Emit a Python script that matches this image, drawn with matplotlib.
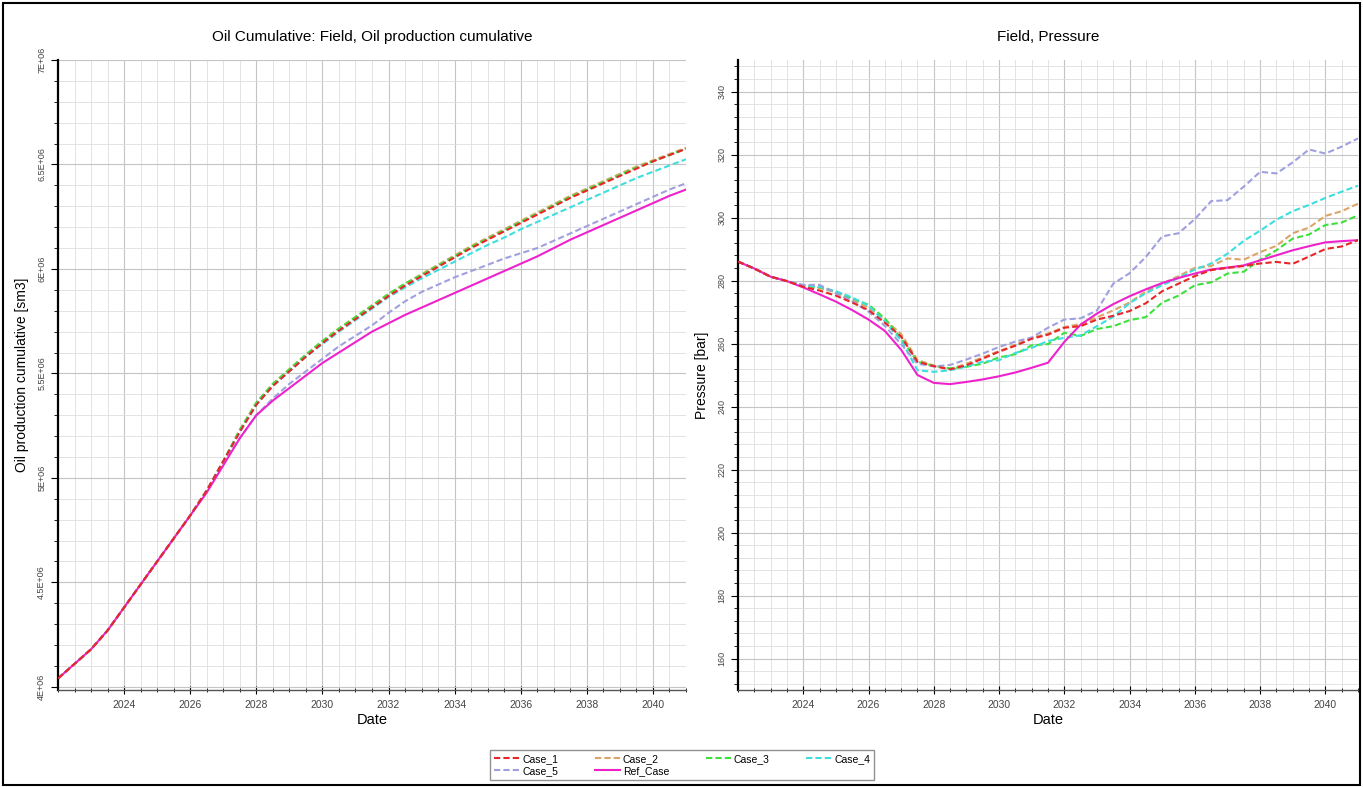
import matplotlib
matplotlib.use('Agg')
import matplotlib.pyplot as plt
from matplotlib.ticker import MultipleLocator, FuncFormatter
from matplotlib.patches import Rectangle
import numpy as np

plt.rcParams['font.family'] = ['Liberation Sans', 'DejaVu Sans']

# dates as decimal years, half-year steps
dates = [2022.0, 2022.5, 2023.0, 2023.5, 2024.0, 2024.5, 2025.0, 2025.5, 2026.0, 2026.5,
         2027.0, 2027.5, 2028.0, 2028.5, 2029.0, 2029.5, 2030.0, 2030.5, 2031.0, 2031.5,
         2032.0, 2032.5, 2033.0, 2033.5, 2034.0, 2034.5, 2035.0, 2035.5, 2036.0, 2036.5,
         2037.0, 2037.5, 2038.0, 2038.5, 2039.0, 2039.5, 2040.0, 2040.5, 2041.0]

case_names = ['Case_1', 'Case_2', 'Case_3', 'Case_4', 'Case_5', 'Ref_Case']
case_colors = ['#e8262a', '#dca468', '#3ee03e', '#3edede', '#a0a0e0', '#ee22cc']
case_styles = ['--', '--', '--', '--', '--', '-']

# oil production cumulative, million sm3
oil_case_1 = [4.04, 4.11, 4.18, 4.27, 4.38, 4.49, 4.60, 4.71, 4.82, 4.94,
              5.08, 5.22, 5.35, 5.44, 5.51, 5.58, 5.645, 5.705, 5.76, 5.815,
              5.87, 5.92, 5.965, 6.01, 6.055, 6.10, 6.14, 6.18, 6.22, 6.26,
              6.30, 6.34, 6.375, 6.41, 6.445, 6.48, 6.515, 6.545, 6.575]
oil_case_2 = [4.04, 4.11, 4.18, 4.27, 4.38, 4.49, 4.60, 4.71, 4.82, 4.94,
              5.08, 5.23, 5.36, 5.45, 5.52, 5.59, 5.655, 5.715, 5.77, 5.825,
              5.88, 5.93, 5.975, 6.02, 6.065, 6.11, 6.15, 6.19, 6.23, 6.27,
              6.31, 6.35, 6.385, 6.42, 6.455, 6.49, 6.52, 6.55, 6.58]
oil_case_3 = [4.04, 4.11, 4.18, 4.27, 4.38, 4.49, 4.60, 4.71, 4.82, 4.94,
              5.08, 5.23, 5.36, 5.45, 5.52, 5.59, 5.655, 5.715, 5.77, 5.825,
              5.88, 5.93, 5.972, 6.017, 6.06, 6.105, 6.145, 6.185, 6.225, 6.265,
              6.305, 6.345, 6.38, 6.415, 6.45, 6.485, 6.515, 6.545, 6.575]
oil_case_4 = [4.04, 4.11, 4.18, 4.27, 4.38, 4.49, 4.60, 4.71, 4.82, 4.94,
              5.08, 5.22, 5.35, 5.44, 5.51, 5.58, 5.64, 5.70, 5.755, 5.81,
              5.865, 5.912, 5.955, 5.995, 6.035, 6.075, 6.115, 6.15, 6.19, 6.225,
              6.26, 6.295, 6.33, 6.365, 6.40, 6.435, 6.465, 6.495, 6.525]
oil_case_5 = [4.04, 4.11, 4.18, 4.27, 4.38, 4.49, 4.60, 4.71, 4.82, 4.94,
              5.07, 5.19, 5.30, 5.38, 5.45, 5.51, 5.57, 5.63, 5.68, 5.73,
              5.79, 5.845, 5.89, 5.925, 5.96, 5.99, 6.02, 6.05, 6.075, 6.10,
              6.135, 6.17, 6.205, 6.24, 6.275, 6.31, 6.345, 6.38, 6.41]
oil_ref = [4.04, 4.11, 4.18, 4.27, 4.38, 4.49, 4.60, 4.71, 4.82, 4.93,
           5.06, 5.19, 5.30, 5.37, 5.43, 5.49, 5.55, 5.60, 5.65, 5.70,
           5.74, 5.78, 5.815, 5.85, 5.885, 5.92, 5.955, 5.99, 6.025, 6.06,
           6.10, 6.14, 6.175, 6.21, 6.245, 6.28, 6.315, 6.35, 6.38]

# field pressure, bar
pres_case_1 = [286.0, 283.8, 281.2, 279.8, 278.0, 276.8, 275.2, 273.0, 270.6, 266.6,
               262.2, 254.2, 252.8, 251.8, 253.1, 255.2, 257.4, 259.3, 261.5, 262.8,
               265.0, 265.5, 267.6, 268.8, 270.3, 272.8, 276.6, 279.0, 281.4, 283.3,
               284.0, 284.6, 285.4, 285.9, 285.3, 287.6, 290.0, 290.8, 292.8]
pres_case_2 = [286.0, 283.8, 281.2, 279.8, 278.3, 277.6, 276.3, 273.8, 271.4, 267.5,
               263.0, 254.8, 253.0, 251.9, 253.6, 255.6, 257.6, 259.6, 261.8, 263.2,
               265.2, 266.2, 268.3, 270.5, 273.0, 276.5, 279.0, 281.4, 284.0, 284.6,
               287.0, 286.6, 289.0, 291.0, 295.0, 296.8, 300.5, 302.0, 304.4]
pres_case_3 = [286.0, 283.8, 281.2, 279.8, 278.2, 277.9, 276.4, 274.3, 272.3, 268.0,
               261.6, 254.2, 252.9, 252.1, 252.6, 253.6, 255.6, 256.6, 259.4, 259.8,
               263.4, 262.4, 264.6, 265.5, 267.4, 268.4, 273.0, 275.2, 278.5, 279.4,
               282.2, 282.8, 286.6, 289.6, 293.3, 294.6, 297.6, 298.4, 300.7]
pres_case_4 = [286.0, 283.8, 281.2, 279.8, 278.5, 278.0, 276.6, 274.6, 272.0, 267.0,
               261.0, 251.5, 251.0, 251.5, 252.7, 254.2, 254.7, 257.0, 258.6, 260.8,
               261.8, 262.6, 265.5, 268.5, 272.8, 276.0, 278.5, 280.8, 283.5, 285.4,
               288.5, 292.6, 295.8, 299.3, 302.0, 304.0, 306.2, 308.2, 310.1]
pres_case_5 = [286.0, 283.8, 281.2, 279.8, 278.6, 278.6, 276.0, 273.4, 270.1, 265.6,
               259.8, 253.6, 252.7, 253.2, 254.9, 256.8, 258.9, 260.6, 261.9, 265.0,
               267.6, 268.0, 270.5, 279.0, 282.3, 287.5, 294.0, 295.0, 299.5, 305.2,
               305.5, 309.8, 314.5, 314.0, 317.5, 321.6, 320.3, 322.5, 325.1]
pres_ref = [286.0, 283.8, 281.2, 279.8, 277.8, 275.6, 273.3, 270.6, 267.6, 264.0,
            258.0, 250.0, 247.5, 247.1, 247.8, 248.6, 249.6, 250.8, 252.3, 253.9,
            260.5, 266.0, 269.5, 272.5, 275.0, 277.2, 279.2, 280.8, 282.2, 283.5,
            284.1, 284.8, 286.4, 288.0, 289.6, 290.9, 292.1, 292.5, 292.8]

oil_series = [oil_case_1, oil_case_2, oil_case_3, oil_case_4, oil_case_5, oil_ref]
pres_series = [pres_case_1, pres_case_2, pres_case_3, pres_case_4, pres_case_5, pres_ref]

year_ticks = [2024, 2026, 2028, 2030, 2032, 2034, 2036, 2038, 2040]


def e_fmt(v, pos):
    m = v / 1e6
    return ('%g' % m) + 'E+06'


def style_axes(ax):
    ax.set_xlim(2022.0, 2041.0)
    ax.set_xticks(year_ticks)
    ax.set_xticklabels([str(y) for y in year_ticks])
    ax.xaxis.set_minor_locator(MultipleLocator(0.5))
    ax.grid(True, which='major', color='#c4c4c4', linewidth=0.8)
    ax.grid(True, which='minor', color='#dedede', linewidth=0.6)
    ax.set_axisbelow(True)
    ax.spines['top'].set_visible(False)
    ax.spines['right'].set_visible(False)
    ax.spines['left'].set_linewidth(1.6)
    ax.spines['bottom'].set_linewidth(1.0)
    ax.spines['bottom'].set_color('#555555')
    ax.tick_params(axis='x', which='major', direction='inout', length=6, labelsize=7.5,
                   labelcolor='#444444', pad=4)
    ax.tick_params(axis='x', which='minor', direction='inout', length=3)
    ax.tick_params(axis='y', which='major', direction='out', length=5, labelsize=6.5,
                   labelcolor='#444444', labelrotation=90)
    ax.tick_params(axis='y', which='minor', direction='out', length=3)
    for lab in ax.get_yticklabels():
        lab.set_va('center')
    ax.set_xlabel('Date', fontsize=10.5, labelpad=2)


fig = plt.figure(figsize=(13.63, 7.87), dpi=100)
W, H = 1363.0, 787.0
ax1 = fig.add_axes([58 / W, 1 - 690 / H, 628 / W, 630 / H])
ax2 = fig.add_axes([738 / W, 1 - 690 / H, 620 / W, 630 / H])

lines = []
for name, vals, col, ls in zip(case_names, oil_series, case_colors, case_styles):
    ln, = ax1.plot(dates, np.array(vals) * 1e6, color=col, linestyle=ls, linewidth=1.5,
                   dashes=(3, 1.5) if ls == '--' else (None, None), label=name)
    lines.append(ln)
for name, vals, col, ls in zip(case_names, pres_series, case_colors, case_styles):
    ax2.plot(dates, vals, color=col, linestyle=ls, linewidth=1.5,
             dashes=(3, 1.5) if ls == '--' else (None, None))

# Case_1 drawn on top like the reference
for ax in (ax1, ax2):
    ax.get_lines()[0].set_zorder(3)

ax1.set_ylim(3.985e6, 7.0e6)
ax1.yaxis.set_major_locator(MultipleLocator(0.5e6))
ax1.yaxis.set_minor_locator(MultipleLocator(0.1e6))
ax1.yaxis.set_major_formatter(FuncFormatter(e_fmt))
style_axes(ax1)
ax1.set_ylabel('Oil production cumulative [sm3]', fontsize=10, labelpad=6)
ax1.set_title('Oil Cumulative: Field, Oil production cumulative', fontsize=11, pad=14)

ax2.set_ylim(150, 350)
ax2.yaxis.set_major_locator(MultipleLocator(20))
ax2.yaxis.set_minor_locator(MultipleLocator(4))
style_axes(ax2)
ax2.set_ylabel('Pressure [bar]', fontsize=10, labelpad=6)
ax2.set_title('Field, Pressure', fontsize=11, pad=14)

# legend filled row by row: Case_1..Case_4 on top, Case_5 and Ref_Case below
order = [0, 4, 1, 5, 2, 3]
leg = fig.legend([lines[i] for i in order], [case_names[i] for i in order],
                 loc='center', bbox_to_anchor=(682 / W, 1 - 765 / H),
                 ncol=4, fontsize=7.5, frameon=True, fancybox=False, handlelength=2.4,
                 columnspacing=3.5, handletextpad=0.3, borderpad=0.35, labelspacing=0.2)
leg.get_frame().set_edgecolor('#777777')
leg.get_frame().set_linewidth(1.0)

fig.patches.append(Rectangle((0.002, 0.002), 0.996, 0.994, transform=fig.transFigure,
                             fill=False, edgecolor='black', linewidth=1.5))

fig.savefig('out.png', dpi=100)
